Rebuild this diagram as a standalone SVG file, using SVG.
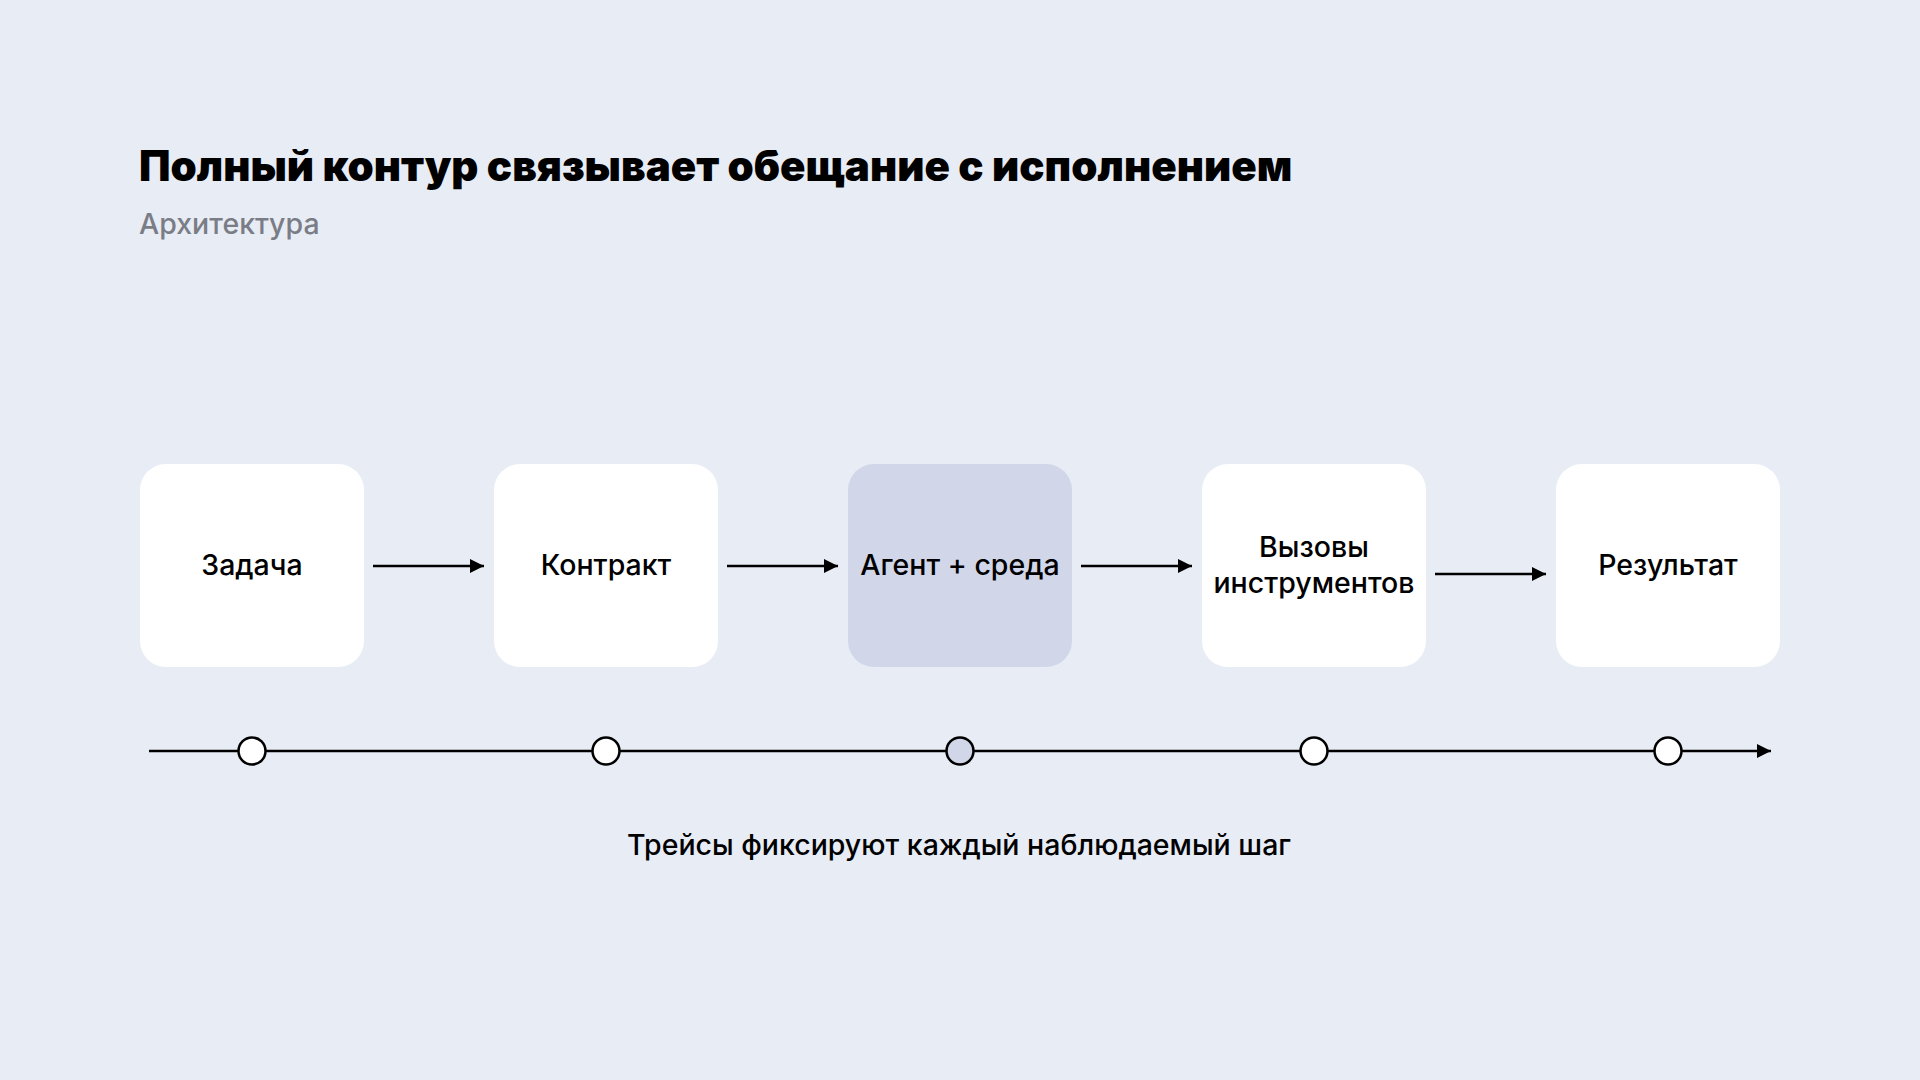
<svg xmlns="http://www.w3.org/2000/svg" width="1920" height="1080" viewBox="0 0 1920 1080">
<defs>
<marker id="ah" viewBox="0 0 10 10" refX="10" refY="5" markerWidth="14" markerHeight="14" markerUnits="userSpaceOnUse" orient="auto"><path d="M0,0 L10,5 L0,10 z" fill="#000"/></marker>
<style>
.box{fill:#fff}
.lbl{font-family:Inter,"Noto Sans",sans-serif;font-size:28.5px;font-weight:500;fill:#000;text-anchor:middle}
.ln{stroke:#000;stroke-width:2.5;fill:none}
.dot{fill:#fff;stroke:#000;stroke-width:2.5}
</style>
</defs>
<rect width="1920" height="1080" fill="#e8ecf5"/>
<text x="139" y="181" font-family="Inter,'Noto Sans',sans-serif" font-size="42" font-weight="900" fill="#000">Полный контур связывает обещание с исполнением</text>
<text x="139" y="234" font-family="Inter,'Noto Sans',sans-serif" font-size="28.5" font-weight="500" fill="#7a7d85">Архитектура</text>
<g id="n1"><rect class="box" x="140" y="464" width="224" height="203" rx="26"/><text class="lbl" x="252" y="575">Задача</text></g>
<g id="n2"><rect class="box" x="494" y="464" width="224" height="203" rx="26"/><text class="lbl" x="606" y="575">Контракт</text></g>
<g id="n3"><rect x="848" y="464" width="224" height="203" rx="26" fill="#d1d7e9"/><text class="lbl" x="960" y="575">Агент + среда</text></g>
<g id="n4"><rect class="box" x="1202" y="464" width="224" height="203" rx="26"/><text class="lbl" x="1314" y="557">Вызовы</text><text class="lbl" x="1314" y="593">инструментов</text></g>
<g id="n5"><rect class="box" x="1556" y="464" width="224" height="203" rx="26"/><text class="lbl" x="1668" y="575">Результат</text></g>
<g id="connectors">
<line class="ln" x1="373" y1="566" x2="484" y2="566" marker-end="url(#ah)"/>
<line class="ln" x1="727" y1="566" x2="838" y2="566" marker-end="url(#ah)"/>
<line class="ln" x1="1081" y1="566" x2="1192" y2="566" marker-end="url(#ah)"/>
<line class="ln" x1="1435" y1="574" x2="1546" y2="574" marker-end="url(#ah)"/>
<line class="ln" x1="149" y1="751" x2="1771" y2="751" marker-end="url(#ah)"/>
</g>
<g id="timeline">
<circle class="dot" cx="252" cy="751" r="13.5"/>
<circle class="dot" cx="606" cy="751" r="13.5"/>
<circle class="dot" cx="960" cy="751" r="13.5" style="fill:#d1d7e9"/>
<circle class="dot" cx="1314" cy="751" r="13.5"/>
<circle class="dot" cx="1668" cy="751" r="13.5"/>
</g>
<text class="lbl" x="959" y="855">Трейсы фиксируют каждый наблюдаемый шаг</text>
</svg>
